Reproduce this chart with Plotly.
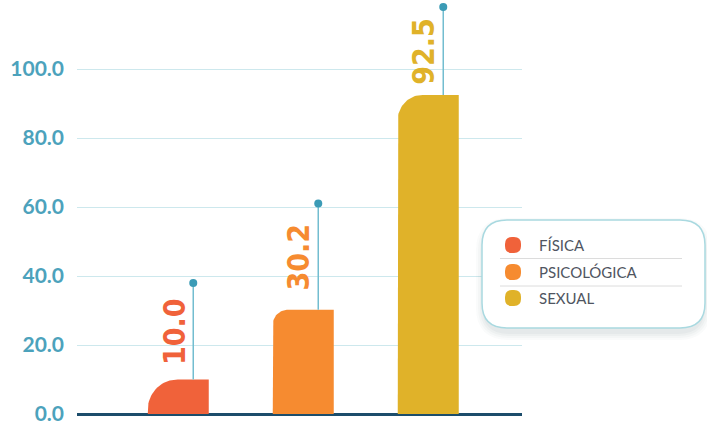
import numpy as np
import plotly.graph_objects as go

# ---- data ----
categories = ["FÍSICA", "PSICOLÓGICA", "SEXUAL"]
values = [10.0, 30.2, 92.5]
stem_tops = [38.0, 61.0, 118.0]
tick_values = [0, 20, 40, 60, 80, 100]

# ---- style ----
colors = ["#f0623a", "#f68b30", "#e0b229"]
corner_px = [30, 15, 25]
W, H = 707, 424
L, R, T, B = 77, 522, 0, 414
PPU = 3.45
x_range = [-0.81, 2.75]
y_range = [0, (B - T) / PPU]
px_x = (x_range[1] - x_range[0]) / (R - L)
px_y = 1 / PPU
half_w = 30.5 * px_x
stem_dx = 0.12
label_dx = -0.035

fig = go.Figure()

for i, (cat, v) in enumerate(zip(categories, values)):
    x0, x1 = i - half_w, i + half_w
    rx = min(corner_px[i] * px_x, 2 * half_w)
    ry = min(corner_px[i] * px_y, v)
    t = np.linspace(np.pi, np.pi / 2, 24)
    cx, cy = x0 + rx, v - ry
    arc_x = cx + rx * np.cos(t)
    arc_y = cy + ry * np.sin(t)
    xs = [x0] + list(arc_x) + [x1, x1, x0]
    ys = [0] + list(arc_y) + [v, 0, 0]
    fig.add_trace(go.Scatter(x=xs, y=ys, fill="toself", fillcolor=colors[i],
                             line=dict(width=0, color=colors[i]), mode="lines",
                             hoverinfo="skip", showlegend=False))
    fig.add_trace(go.Scatter(x=[i + stem_dx, i + stem_dx], y=[v, stem_tops[i]],
                             mode="lines", line=dict(color="#73bdd0", width=1.5),
                             hoverinfo="skip", showlegend=False))
    fig.add_trace(go.Scatter(x=[i + stem_dx], y=[stem_tops[i]], mode="markers",
                             marker=dict(color="#3b9bb6", size=8), cliponaxis=False,
                             hoverinfo="skip", showlegend=False))
    fig.add_annotation(x=i + label_dx, y=(v + stem_tops[i]) / 2, xref="x", yref="y",
                       text=f"{v:.1f}", textangle=-90, showarrow=False,
                       xanchor="center", yanchor="middle",
                       font=dict(family="DejaVu Sans Condensed, Liberation Sans Narrow, DejaVu Sans",
                                 size=30, color=colors[i], weight="bold"))


def pxp(x):
    return (x - L) / (R - L)


def pyp(y):
    return (B - y) / (B - T)


def rrect(x0, y0, x1, y1, r):
    rx = r / (R - L)
    ry = r / (B - T)
    a0, a1 = pxp(x0), pxp(x1)
    b0, b1 = pyp(y1), pyp(y0)
    return (f"M{a0 + rx},{b1} L{a1 - rx},{b1} Q{a1},{b1} {a1},{b1 - ry} "
            f"L{a1},{b0 + ry} Q{a1},{b0} {a1 - rx},{b0} L{a0 + rx},{b0} "
            f"Q{a0},{b0} {a0},{b0 + ry} L{a0},{b1 - ry} Q{a0},{b1} {a0 + rx},{b1} Z")


shapes = []
for k, op in enumerate([0.025, 0.03, 0.035, 0.04]):
    e = 8 - 2 * k
    shapes.append(dict(type="path", xref="paper", yref="paper",
                       path=rrect(482 - e + 2, 220 - e + 6, 705 + e - 2, 328 + e + 4, 25 + e),
                       fillcolor=f"rgba(60,80,90,{op})", line=dict(width=0), layer="above"))
shapes.append(dict(type="path", xref="paper", yref="paper",
                   path=rrect(482, 220, 705, 328, 25),
                   fillcolor="white", line=dict(color="#a9d9e0", width=1.5), layer="above"))
leg_y = [245, 272, 298]
for sep in [258.5, 286]:
    shapes.append(dict(type="line", xref="paper", yref="paper",
                       x0=pxp(500), x1=pxp(682), y0=pyp(sep), y1=pyp(sep),
                       line=dict(color="#dcdcdc", width=1), layer="above"))
for i, cat in enumerate(categories):
    cy = leg_y[i]
    shapes.append(dict(type="path", xref="paper", yref="paper",
                       path=rrect(505, cy - 8, 521, cy + 8, 7),
                       fillcolor=colors[i], line=dict(width=0), layer="above"))
    fig.add_annotation(x=pxp(537), y=pyp(cy), xref="paper", yref="paper",
                       text=cat, showarrow=False, xanchor="left", yanchor="middle",
                       font=dict(family="Lato", size=15, color="#4f5561"))

fig.update_layout(
    width=W, height=H,
    margin=dict(l=L, r=W - R, t=T, b=H - B),
    paper_bgcolor="white", plot_bgcolor="white",
    showlegend=False, shapes=shapes,
    xaxis=dict(range=x_range, showgrid=False, zeroline=False, showticklabels=False,
               showline=False, fixedrange=True),
    yaxis=dict(range=y_range, tickvals=tick_values, tickformat=".1f",
               showgrid=True, gridcolor="#cde8ed", gridwidth=1,
               zeroline=True, zerolinecolor="#1c4d6b", zerolinewidth=3,
               showline=False, ticks="", ticklabelstandoff=12, automargin=False,
               ticklabeloverflow="allow", fixedrange=True,
               tickfont=dict(family="Lato", size=21, color="#4ca2bc", weight="bold")),
)

fig.write_html("out.html", config={"displayModeBar": False, "staticPlot": True},
               post_script="document.body.style.margin='0';document.body.style.overflow='hidden';")
